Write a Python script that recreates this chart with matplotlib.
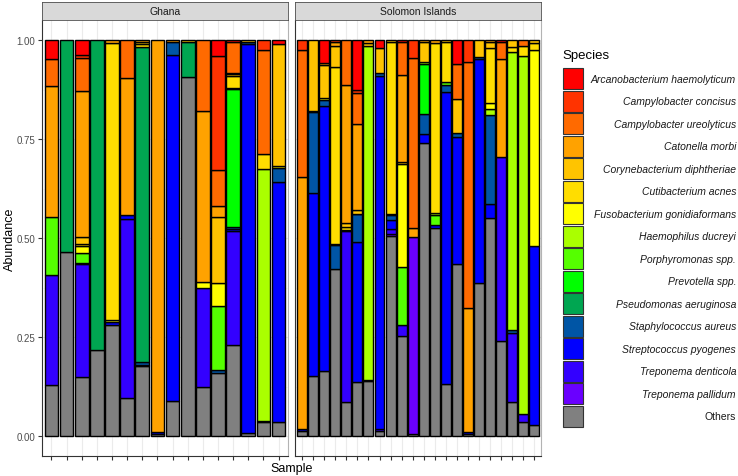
import numpy as np
import matplotlib
matplotlib.use("Agg")
import matplotlib.pyplot as plt
from matplotlib.patches import Rectangle

plt.rcParams["font.family"] = ["Liberation Sans", "DejaVu Sans"]

species = ["Arcanobacterium haemolyticum", "Campylobacter concisus", "Campylobacter ureolyticus",
           "Catonella morbi", "Corynebacterium diphtheriae", "Cutibacterium acnes",
           "Fusobacterium gonidiaformans", "Haemophilus ducreyi", "Porphyromonas spp.",
           "Prevotella spp.", "Pseudomonas aeruginosa", "Staphylococcus aureus",
           "Streptococcus pyogenes", "Treponema denticola", "Treponema pallidum", "Others"]
colors = ["#FF0000", "#FF3300", "#FF6A00", "#FFA200", "#FFC400", "#FFDD00", "#FFFF00", "#AAFF00",
          "#55FF00", "#00FF00", "#00A651", "#0055A5", "#0000FF", "#3300FF", "#6A00FF", "#808080"]

countries = ["Ghana", "Solomon Islands"]
n_samples = [16, 22]

# per-species relative abundance, 16 Ghana samples then 22 Solomon Islands samples
arcano = [.048, 0, .039, 0, 0, 0, 0, 0, 0, 0, 0, .040, .004, 0, 0, .010,
          0, 0, .059, 0, 0, .126, 0, .019, 0, .005, 0, 0, 0, 0, .059, 0, 0, 0, .006, 0, 0, 0]
concisus = [0, 0, .007, 0, 0, 0, 0, 0, 0, 0, 0, .285, 0, 0, .025, 0,
            .025, 0, 0, .004, 0, .008, 0, 0, 0, 0, .044, 0, 0, 0, 0, .055, 0, 0, 0, 0, 0, 0]
ureolyticus = [.068, 0, .082, 0, 0, .095, 0, 0, 0, 0, .179, .092, .078, 0, .263, 0,
               .320, 0, 0, 0, .114, .078, 0, 0, 0, .082, .427, 0, 0, 0, .090, .616, 0, 0, .042, 0, .014, 0]
catonella = [.330, 0, .369, 0, .008, .347, .005, .990, .004, 0, .431, .026, .004, 0, 0, 0,
             .636, 0, .003, .010, .345, .216, .008, 0, 0, .219, .023, .005, .008, 0, 0, .311, 0, .004, .244, 0, 0, 0]
coryne = [0, 0, .019, 0, 0, 0, .006, 0, 0, .006, 0, .166, .004, .004, 0, .306,
          0, .179, .084, .055, .011, .008, .006, .063, .006, .006, 0, .049, 0, .005, .085, 0, .044, .017, 0, .017, 0, .008]
cutibact = [0, 0, .004, 0, .700, 0, .006, 0, 0, 0, 0, 0, .030, 0, .038, 0,
            0, 0, 0, .444, .006, 0, 0, 0, .431, 0, 0, 0, .424, .101, 0, 0, 0, .136, 0, .012, .025, .018]
fuso = [0, 0, .018, 0, .005, 0, 0, 0, 0, 0, .015, .057, .004, 0, 0, .006,
        0, 0, .006, 0, 0, 0, 0, 0, .004, .260, 0, 0, 0, 0, 0, 0, 0, .015, 0, 0, 0, .488]
haemoph = [0, 0, 0, 0, 0, 0, 0, 0, 0, 0, 0, 0, 0, 0, .634, 0,
           0, .003, 0, .003, 0, .002, .842, 0, 0, 0, 0, .006, .007, 0, 0, 0, 0, .014, 0, .696, .892, 0]
porphyro = [.147, 0, .024, 0, 0, 0, 0, 0, 0, 0, 0, .162, 0, 0, .004, 0,
            0, 0, 0, 0, 0, 0, 0, 0, 0, .145, 0, 0, .025, .008, 0, 0, 0, 0, 0, 0, 0, 0]
prevotella = [0, 0, 0, 0, 0, 0, 0, 0, 0, 0, 0, 0, .347, 0, 0, 0,
              0, 0, 0, 0, 0, 0, 0, 0, 0, 0, 0, .126, 0, 0, 0, 0, 0, 0, 0, 0, 0, 0]
pseudomonas = [0, .535, .004, .783, 0, 0, .794, 0, 0, .088, 0, 0, 0, 0, 0, 0,
               0, 0, 0, 0, 0, 0, 0, 0, 0, 0, 0, 0, 0, 0, 0, 0, 0, 0, 0, 0, 0, 0]
staph = [0, 0, 0, 0, 0, 0, .006, 0, .035, 0, 0, .006, .005, .006, 0, .034,
         0, .202, .014, .059, 0, .070, 0, .008, .011, 0, 0, .049, 0, .017, .008, 0, .005, .221, 0, .008, 0, 0]
strep = [0, 0, 0, 0, .007, .008, .004, .004, .870, 0, 0, 0, .005, .982, 0, .604,
         .004, .461, .668, 0, .004, .351, 0, .888, .023, 0, 0, .022, .006, .732, .318, .005, .561, .036, 0, 0, 0, .446]
t_dent = [.278, 0, .286, 0, 0, .453, 0, 0, 0, 0, .250, 0, .286, 0, 0, 0,
          0, 0, 0, 0, .429, 0, .004, .004, .013, .027, 0, 0, 0, 0, 0, 0, 0, 0, .459, .172, .019, 0]
t_pall = [0, 0, 0, 0, 0, 0, 0, 0, 0, 0, 0, 0, 0, 0, 0, 0,
          0, 0, 0, 0, 0, 0, 0, 0, .004, 0, .492, 0, 0, 0, 0, 0, 0, 0, 0, 0, 0, 0]
others = [.129, .465, .148, .217, .280, .095, .176, .006, .089, .904, .123, .159, .228, .007, .035, .035,
          .013, .152, .165, .420, .085, .136, .138, .013, .504, .252, .005, .733, .521, .131, .432, .005, .386, .541, .237, .085, .036, .028]

abund = np.array([arcano, concisus, ureolyticus, catonella, coryne, cutibact, fuso, haemoph,
                  porphyro, prevotella, pseudomonas, staph, strep, t_dent, t_pall, others])
abund = abund / abund.sum(axis=0)  # position = "fill"

W, H = 738, 477
fig = plt.figure(figsize=(W / 100, H / 100), dpi=100)


def px_rect(x0, y0, x1, y1):
    return [x0 / W, 1 - y1 / H, (x1 - x0) / W, (y1 - y0) / H]


panel_x = [(42.4, 287.6), (295.4, 541.1)]
start = 0
for p, (name, n) in enumerate(zip(countries, n_samples)):
    x0, x1 = panel_x[p]
    ax = fig.add_axes(px_rect(x0, 21.2, x1, 456.8))
    data = abund[:, start:start + n]
    start += n
    xs = np.arange(n)
    bottom = np.zeros(n)
    for k in range(len(species) - 1, -1, -1):
        m = data[k] > 0
        ax.bar(xs[m], data[k][m], bottom=bottom[m], width=0.9, color=colors[k],
               edgecolor="black", linewidth=1.0)
        bottom += data[k]
    ax.set_xlim(-0.6, n - 0.4)
    ax.set_ylim(-0.05, 1.05)
    ax.set_axisbelow(True)
    ax.set_xticks(xs)
    ax.set_xticklabels([])
    ax.set_yticks([0, 0.25, 0.5, 0.75, 1.0])
    ax.set_yticks([0.125, 0.375, 0.625, 0.875], minor=True)
    ax.grid(which="major", color="#EBEBEB", linewidth=0.8)
    ax.grid(which="minor", axis="y", color="#F4F4F4", linewidth=0.4)
    ax.tick_params(axis="x", length=3, width=0.8, color="#333333")
    ax.tick_params(axis="y", which="minor", length=0)
    if p == 0:
        ax.set_yticklabels(["0.00", "0.25", "0.50", "0.75", "1.00"])
        ax.tick_params(axis="y", length=3, width=0.8, color="#333333", labelsize=7, labelcolor="#4D4D4D", pad=2)
    else:
        ax.tick_params(axis="y", left=False, labelleft=False)
    ax.spines["top"].set_visible(False)
    for s in ["left", "bottom"]:
        ax.spines[s].set_color("#333333")
        ax.spines[s].set_linewidth(0.8)
    ax.spines["right"].set_color("#B3B3B3")
    ax.spines["right"].set_linewidth(0.8)

    strip = fig.add_axes(px_rect(x0, 3, x1, 21.2))
    strip.set_facecolor("#D9D9D9")
    strip.set_xticks([])
    strip.set_yticks([])
    for s in strip.spines.values():
        s.set_color("#4D4D4D")
        s.set_linewidth(0.6)
    strip.text(0.5, 0.5, name, ha="center", va="center", fontsize=7.5, color="#1A1A1A",
               transform=strip.transAxes)

fig.text(10 / W, 1 - 239 / H, "Abundance", rotation=90, ha="center", va="center", fontsize=9)
fig.text(291.7 / W, 1 - 469 / H, "Sample", ha="center", va="center", fontsize=9)

# legend drawn by hand so labels can be right aligned like ggplot
fig.text(562 / W, 1 - 56 / H, "Species", ha="left", va="center", fontsize=9.5)
for i, (sp, c) in enumerate(zip(species, colors)):
    yc = 79.7 + 22.5 * i
    fig.add_artist(Rectangle((562.5 / W, 1 - (yc + 10.3) / H), 20.5 / W, 20.6 / H,
                             facecolor=c, edgecolor="#333333", linewidth=0.8,
                             transform=fig.transFigure))
    fig.text(736 / W, 1 - yc / H, sp, ha="right", va="center", fontsize=7.5,
             style="normal" if sp == "Others" else "italic", color="#1A1A1A")

fig.savefig("out.png", dpi=100)
